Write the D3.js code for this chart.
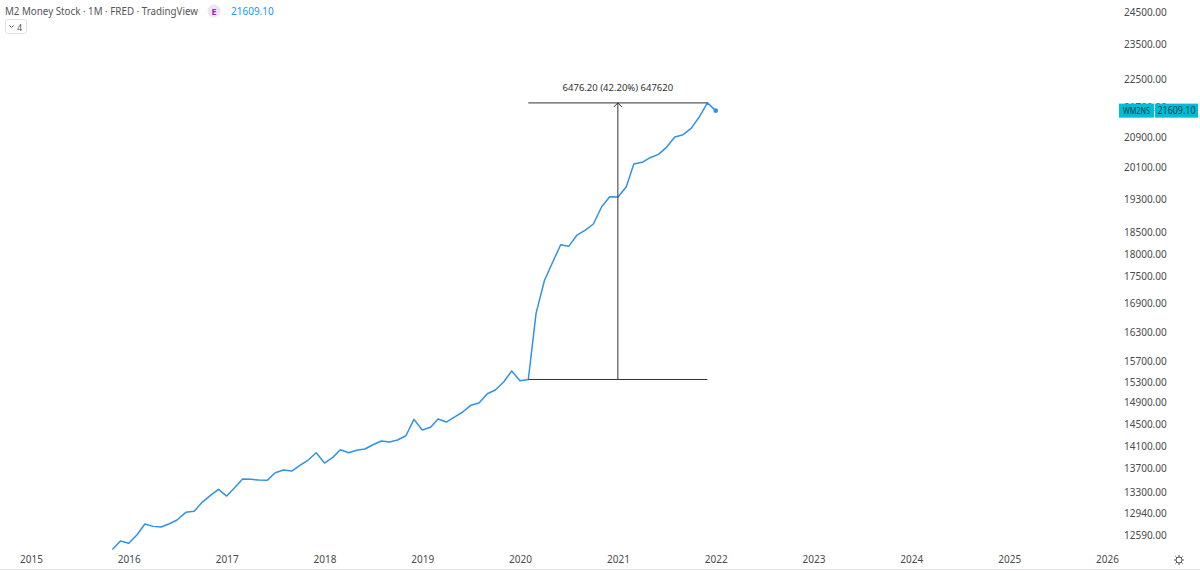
<!DOCTYPE html>
<html>
<head>
<meta charset="utf-8">
<script src="https://cdn.jsdelivr.net/npm/d3@7"></script>
<style>
  html, body { margin: 0; padding: 0; background: #fff; }
  svg { display: block; font-family: "Noto Sans", sans-serif; }
</style>
</head>
<body>
<svg id="chart" width="1200" height="571"></svg>
<script>
// 月度数据 (2015-11 起)
const startMonth = new Date(2015, 10, 1);
const m2Values = [
  12360, 12493, 12457, 12594, 12767, 12729, 12718, 12772, 12837, 12958, 12975, 13124, 13242, 13343,
  13230, 13378, 13520, 13514, 13502, 13497, 13628, 13675, 13658, 13757, 13851, 13980,
  13798, 13898, 14034, 13980, 14023, 14046, 14123, 14190, 14172, 14208, 14286, 14587,
  14390, 14440, 14593, 14537, 14630, 14724, 14850, 14893, 15071, 15142, 15297, 15513,
  15320, 15346.4, 16695, 17402, 17805, 18218, 18181, 18444, 18562, 18705, 19121, 19366,
  19359, 19614, 20189, 20233, 20352, 20440, 20623, 20896, 20957, 21128, 21443, 21822.6,
  21609.1
];
// 右侧刻度
const yTicks = [24500, 23500, 22500, 21700, 20900, 20100, 19300, 18500, 18000, 17500, 16900,
  16300, 15700, 15300, 14900, 14500, 14100, 13700, 13300, 12940, 12590];
// 底部年份
const xYears = [2015, 2016, 2017, 2018, 2019, 2020, 2021, 2022, 2023, 2024, 2025, 2026];
// 测量标注 (起点、终点)
const measure = { from: new Date(2020, 1, 1), to: new Date(2021, 11, 1), low: 15346.4, high: 21822.6 };
const lastValue = 21609.1;

const data = m2Values.map((v, i) => ({ date: d3.timeMonth.offset(startMonth, i), value: v }));

const svg = d3.select('#chart');
const textColor = '#4a4a4a';

// 比例尺
const x = d3.scaleTime()
  .domain([new Date(2015, 0, 1), new Date(2026, 0, 1)])
  .range([31, 1107]);
const y = d3.scaleLog()
  .domain([12590, 24500])
  .range([535, 12]);

// 裁剪区域
svg.append('clipPath').attr('id', 'plot-clip')
  .append('rect').attr('x', 0).attr('y', 0).attr('width', 1115).attr('height', 550);

// 折线
const line = d3.line().x(d => x(d.date)).y(d => y(d.value));
svg.append('path')
  .datum(data)
  .attr('clip-path', 'url(#plot-clip)')
  .attr('fill', 'none')
  .attr('stroke', '#2f93ea')
  .attr('stroke-width', 1.5)
  .attr('stroke-linejoin', 'round')
  .attr('d', line);

// 最后一点
const last = data[data.length - 1];
svg.append('circle')
  .attr('cx', x(last.date)).attr('cy', y(last.value)).attr('r', 2.3)
  .attr('fill', '#2f93ea');

// 测量标注
const mx0 = x(measure.from), mx1 = x(measure.to);
const mxMid = x(new Date((measure.from.getTime() + measure.to.getTime()) / 2));
const yLow = y(measure.low), yHigh = y(measure.high);
const mg = svg.append('g').attr('stroke', '#333').attr('stroke-width', 1).attr('fill', 'none');
mg.append('line').attr('x1', mx0).attr('x2', mx1).attr('y1', yLow).attr('y2', yLow);
mg.append('line').attr('x1', mx0).attr('x2', mx1).attr('y1', yHigh).attr('y2', yHigh);
mg.append('line').attr('x1', mxMid).attr('x2', mxMid).attr('y1', yLow).attr('y2', yHigh);
mg.append('path').attr('d', `M${mxMid - 4},${yHigh + 4}L${mxMid},${yHigh}L${mxMid + 4},${yHigh + 4}`);

const diff = measure.high - measure.low;
const pct = diff / measure.low * 100;
svg.append('text')
  .attr('x', mxMid).attr('y', yHigh - 12)
  .attr('text-anchor', 'middle')
  .attr('font-size', 9.5)
  .attr('fill', '#333')
  .text(`${diff.toFixed(2)} (${pct.toFixed(2)}%) ${Math.round(diff * 100)}`);

// 右侧坐标轴
const yAxis = d3.axisRight(y).tickValues(yTicks).tickSize(0).tickPadding(0)
  .tickFormat(d => d.toFixed(2));
svg.append('g')
  .attr('transform', 'translate(1124,0)')
  .call(yAxis)
  .call(g => g.select('.domain').remove())
  .call(g => g.selectAll('text')
    .attr('fill', textColor)
    .attr('font-size', 10)
    .attr('font-family', '"Noto Sans", sans-serif'));

// 底部坐标轴
const xAxis = d3.axisBottom(x)
  .tickValues(xYears.map(yr => new Date(yr, 0, 1)))
  .tickSize(0).tickPadding(0)
  .tickFormat(d3.timeFormat('%Y'));
svg.append('g')
  .attr('transform', 'translate(0,556)')
  .call(xAxis)
  .call(g => g.select('.domain').remove())
  .call(g => g.selectAll('text')
    .attr('fill', textColor)
    .attr('font-size', 10)
    .attr('font-family', '"Noto Sans", sans-serif'));

// 底部边线
svg.append('line')
  .attr('x1', 0).attr('x2', 1200).attr('y1', 569.5).attr('y2', 569.5)
  .attr('stroke', '#e6e6e6');

// 设置图标
const gear = svg.append('g').attr('transform', 'translate(1179,560)')
  .attr('fill', 'none').attr('stroke', '#555').attr('stroke-width', 1);
gear.append('circle').attr('r', 3);
d3.range(8).forEach(i => {
  const a = i * Math.PI / 4;
  gear.append('line')
    .attr('x1', Math.cos(a) * 3).attr('y1', Math.sin(a) * 3)
    .attr('x2', Math.cos(a) * 5).attr('y2', Math.sin(a) * 5);
});

// 最新值标签
const ly = y(lastValue);
const lbl = svg.append('g').attr('font-size', 10).attr('font-family', '"Noto Sans", sans-serif');
lbl.append('rect').attr('x', 1119).attr('y', ly - 7).attr('width', 35).attr('height', 14).attr('fill', '#00bcd4');
lbl.append('rect').attr('x', 1155).attr('y', ly - 7).attr('width', 43).attr('height', 14).attr('fill', '#00bcd4');
lbl.append('text').attr('x', 1136.5).attr('y', ly + 3.5).attr('text-anchor', 'middle')
  .attr('fill', '#0d3d4d').attr('font-size', 8.5)
  .attr('textLength', 27).attr('lengthAdjust', 'spacingAndGlyphs').text('WM2NS');
lbl.append('text').attr('x', 1176.5).attr('y', ly + 3.5).attr('text-anchor', 'middle')
  .attr('fill', '#0d3d4d').attr('textLength', 38).attr('lengthAdjust', 'spacingAndGlyphs')
  .text(lastValue.toFixed(2));

// 顶部标题
const head = svg.append('g').attr('font-family', '"Noto Sans", sans-serif');
head.append('text').attr('x', 5).attr('y', 15).attr('font-size', 11).attr('fill', '#555')
  .attr('textLength', 193).attr('lengthAdjust', 'spacingAndGlyphs')
  .text('M2 Money Stock · 1M · FRED · TradingView');
head.append('circle').attr('cx', 214).attr('cy', 11).attr('r', 6.5).attr('fill', '#f1e2f5');
head.append('text').attr('x', 214).attr('y', 14.5).attr('text-anchor', 'middle')
  .attr('font-size', 9).attr('font-weight', 'bold').attr('fill', '#9c27b0').text('E');
head.append('text').attr('x', 231).attr('y', 15).attr('font-size', 10).attr('fill', '#2196f3')
  .text(lastValue.toFixed(2));
head.append('rect').attr('x', 5.5).attr('y', 19.5).attr('width', 21).attr('height', 14).attr('rx', 2)
  .attr('fill', '#fff').attr('stroke', '#e0e0e0');
head.append('path').attr('d', 'M9.5,25.5L11.5,27.5L13.5,25.5').attr('fill', 'none').attr('stroke', '#555');
head.append('text').attr('x', 17).attr('y', 30.5).attr('font-size', 9).attr('fill', '#555').text('4');
</script>
</body>
</html>
